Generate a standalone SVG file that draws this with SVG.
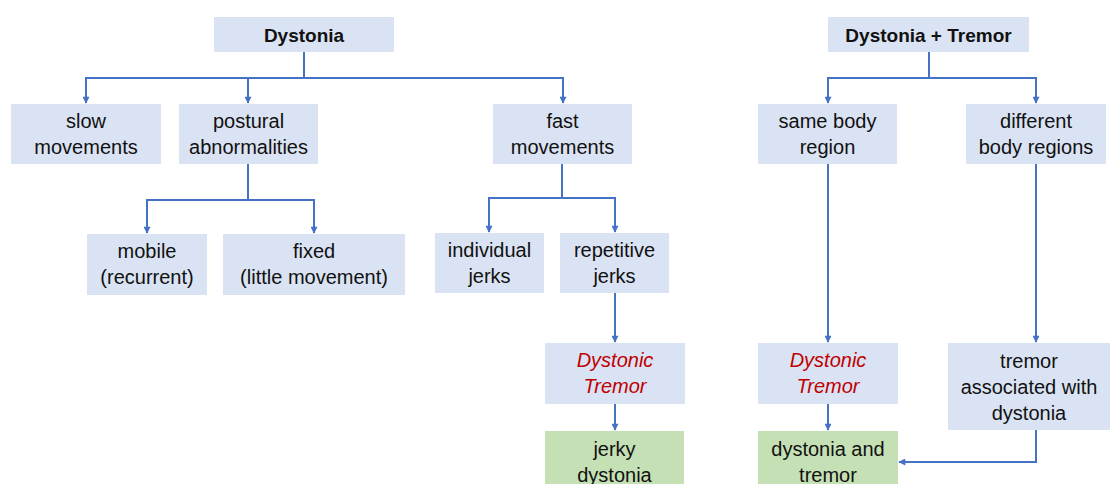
<svg xmlns="http://www.w3.org/2000/svg" width="1110" height="484" viewBox="0 0 1110 484">
<style>
.b{fill:#dae3f3}
.g{fill:#c5e0b4}
.t{font-family:"Liberation Sans",Arial,sans-serif;font-size:20px;fill:#111;text-anchor:middle}
.h{font-weight:bold;font-size:19px}
.r{fill:#c00000;font-style:italic}
.c{fill:none;stroke:#4472c4;stroke-width:2}
</style>
<defs>
<marker id="ah" viewBox="0 0 10 10" refX="9" refY="5" markerWidth="8" markerHeight="7" markerUnits="userSpaceOnUse" orient="auto">
<path d="M0,0 L10,5 L0,10 z" fill="#4472c4"/>
</marker>
</defs>
<rect width="1110" height="484" fill="#fff"/>
<g id="connectors">
<path class="c" d="M304,52 V78 H86 V103" marker-end="url(#ah)"/>
<path class="c" d="M304,78 H248 V103" marker-end="url(#ah)"/>
<path class="c" d="M304,78 H563 V103" marker-end="url(#ah)"/>
<path class="c" d="M248,164 V200 H147 V233" marker-end="url(#ah)"/>
<path class="c" d="M248,200 H314 V233" marker-end="url(#ah)"/>
<path class="c" d="M562,164 V198 H489 V232" marker-end="url(#ah)"/>
<path class="c" d="M562,198 H615 V232" marker-end="url(#ah)"/>
<path class="c" d="M615,293 V342" marker-end="url(#ah)"/>
<path class="c" d="M615,404 V430" marker-end="url(#ah)"/>
<path class="c" d="M929,52 V78 H828 V103" marker-end="url(#ah)"/>
<path class="c" d="M929,78 H1036 V103" marker-end="url(#ah)"/>
<path class="c" d="M828,164 V342" marker-end="url(#ah)"/>
<path class="c" d="M1036,164 V342" marker-end="url(#ah)"/>
<path class="c" d="M828,404 V430" marker-end="url(#ah)"/>
<path class="c" d="M1036,430 V462 H899" marker-end="url(#ah)"/>
</g>
<g id="dystonia"><rect class="b" x="214" y="17" width="180" height="35"/><text class="t h" x="304" y="42">Dystonia</text></g>
<g id="slow"><rect class="b" x="11" y="104" width="150" height="60"/><text class="t" x="86" y="128">slow</text><text class="t" x="86" y="154">movements</text></g>
<g id="postural"><rect class="b" x="179" y="104" width="139" height="60"/><text class="t" x="248.5" y="128">postural</text><text class="t" x="248.5" y="154">abnormalities</text></g>
<g id="fast"><rect class="b" x="493" y="104" width="139" height="60"/><text class="t" x="562.5" y="128">fast</text><text class="t" x="562.5" y="154">movements</text></g>
<g id="mobile"><rect class="b" x="87" y="234" width="120" height="61"/><text class="t" x="147" y="258">mobile</text><text class="t" x="147" y="284">(recurrent)</text></g>
<g id="fixed"><rect class="b" x="223" y="234" width="182" height="61"/><text class="t" x="314" y="258">fixed</text><text class="t" x="314" y="284">(little movement)</text></g>
<g id="individual"><rect class="b" x="435" y="233" width="109" height="60"/><text class="t" x="489.5" y="257">individual</text><text class="t" x="489.5" y="283">jerks</text></g>
<g id="repetitive"><rect class="b" x="560" y="233" width="109" height="60"/><text class="t" x="614.5" y="257">repetitive</text><text class="t" x="614.5" y="283">jerks</text></g>
<g id="dt1"><rect class="b" x="545" y="343" width="140" height="61"/><text class="t r" x="615" y="367">Dystonic</text><text class="t r" x="615" y="393">Tremor</text></g>
<g id="jerky"><rect class="g" x="545" y="431" width="139" height="60"/><text class="t" x="614.5" y="456">jerky</text><text class="t" x="614.5" y="482">dystonia</text></g>
<g id="dysttremor"><rect class="b" x="828" y="17" width="201" height="35"/><text class="t h" x="928.5" y="42">Dystonia + Tremor</text></g>
<g id="same"><rect class="b" x="758" y="104" width="139" height="60"/><text class="t" x="827.5" y="128">same body</text><text class="t" x="827.5" y="154">region</text></g>
<g id="different"><rect class="b" x="966" y="104" width="140" height="60"/><text class="t" x="1036" y="128">different</text><text class="t" x="1036" y="154">body regions</text></g>
<g id="dt2"><rect class="b" x="758" y="343" width="140" height="61"/><text class="t r" x="828" y="367">Dystonic</text><text class="t r" x="828" y="393">Tremor</text></g>
<g id="assoc"><rect class="b" x="948" y="343" width="162" height="87"/><text class="t" x="1029" y="368">tremor</text><text class="t" x="1029" y="394">associated with</text><text class="t" x="1029" y="420">dystonia</text></g>
<g id="dandt"><rect class="g" x="758" y="431" width="140" height="60"/><text class="t" x="828" y="456">dystonia and</text><text class="t" x="828" y="482">tremor</text></g>
</svg>
